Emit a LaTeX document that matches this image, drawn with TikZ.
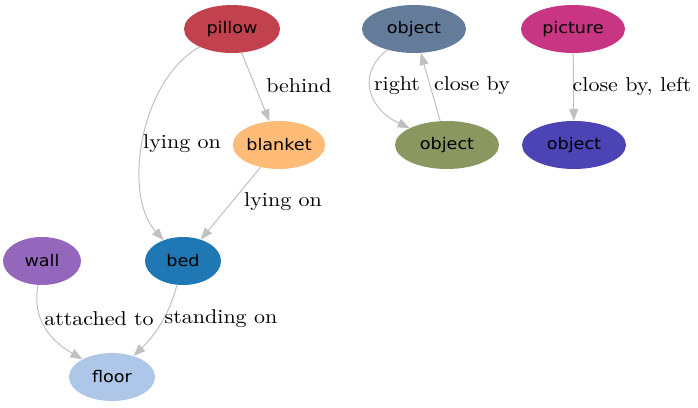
\documentclass[tikz,border=0pt]{standalone}
\usepackage{fontspec}
\newfontfamily\nodefont{DejaVu Sans}[FakeStretch=1.1]
\newfontfamily\labfont{lmroman10-regular}[Extension=.otf,FakeStretch=1.1]
\usetikzlibrary{arrows.meta,shapes.geometric}
\definecolor{cpillow}{HTML}{C1424E}
\definecolor{cobja}{HTML}{647C9A}
\definecolor{cpicture}{HTML}{C83683}
\definecolor{cblanket}{HTML}{FFBC79}
\definecolor{cobjb}{HTML}{8A9760}
\definecolor{cobjc}{HTML}{4C44B4}
\definecolor{cwall}{HTML}{9467BD}
\definecolor{cbed}{HTML}{1F77B4}
\definecolor{cfloor}{HTML}{AEC7E8}
\definecolor{edgegray}{HTML}{C0C0C0}
\begin{document}
\begin{tikzpicture}[x=1pt,y=-1pt,
  obj/.style={ellipse, draw=none, minimum height=48pt, inner sep=0pt, font=\nodefont\fontsize{16}{19}\selectfont},
  rel/.style={draw=edgegray, line width=1pt, -{Triangle[length=12pt,width=9pt,fill=edgegray]}},
  lab/.style={font=\labfont\fontsize{20}{23}\selectfont, inner sep=1pt}]
\useasboundingbox (0,0) rectangle (698,407);
\node[obj, fill=cpillow, minimum width=96pt] (pillow) at (232,29) {pillow};
\node[obj, fill=cobja, minimum width=104pt] (obja) at (414,29) {object};
\node[obj, fill=cpicture, minimum width=104pt] (picture) at (573,29) {picture};
\node[obj, fill=cblanket, minimum width=92pt] (blanket) at (279,145) {blanket};
\node[obj, fill=cobjb, minimum width=104pt] (objb) at (447,145) {object};
\node[obj, fill=cobjc, minimum width=104pt] (objc) at (574,145) {object};
\node[obj, fill=cwall, minimum width=78pt] (wall) at (42,261) {wall};
\node[obj, fill=cbed, minimum width=76pt] (bed) at (183,261) {bed};
\node[obj, fill=cfloor, minimum width=86pt] (floor) at (112,377) {floor};

\draw[rel] (pillow) .. controls (140,80) and (122,195) .. (bed);
\node[lab] (l1) at (182,144) {lying on};
\draw[rel] (pillow) -- (blanket);
\node[lab] (l2) at (299,86) {behind};
\draw[rel] (blanket) -- (bed);
\node[lab] (l3) at (283,202) {lying on};
\draw[rel] (obja) .. controls (355,75) and (370,110) .. (objb);
\node[lab] (l4) at (397,86) {right};
\draw[rel] (objb) -- (obja);
\node[lab] (l5) at (472,86) {close by};
\draw[rel] (picture) -- (objc);
\node[lab] (l6) at (632,86) {close by, left};
\draw[rel] (wall) .. controls (32,320) and (50,340) .. (floor);
\node[lab] (l7) at (99,319) {attached to};
\draw[rel] (bed) .. controls (168,320) and (150,340) .. (floor);
\node[lab] (l8) at (221,319) {standing on};
\end{tikzpicture}
\end{document}
